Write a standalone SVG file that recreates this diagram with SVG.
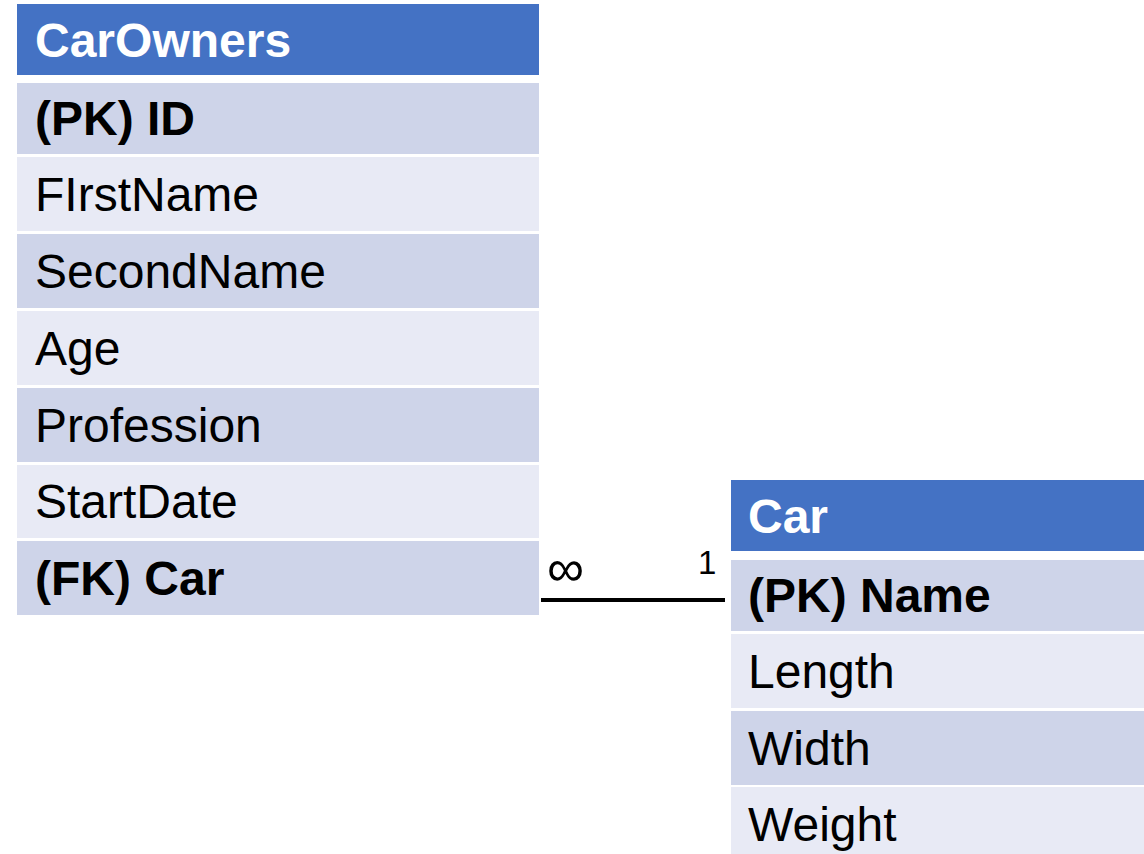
<svg xmlns="http://www.w3.org/2000/svg" width="1144" height="854" viewBox="0 0 1144 854">
  <style>
    .hdr { fill: #4472C4; }
    .dark { fill: #CED4E9; }
    .light { fill: #E8EAF5; }
    .title { font-family: "Liberation Sans", Arial, sans-serif; font-size: 48px; font-weight: bold; fill: #FFFFFF; }
    .key { font-family: "Liberation Sans", Arial, sans-serif; font-size: 48px; font-weight: bold; fill: #000000; }
    .field { font-family: "Liberation Sans", Arial, sans-serif; font-size: 48px; fill: #000000; }
    .card { font-family: "Liberation Sans", Arial, sans-serif; font-size: 33px; fill: #000000; }
    .inf { font-family: "Liberation Sans", Arial, sans-serif; font-size: 52px; fill: #000000; }
    .rel { stroke: #000000; stroke-width: 4; fill: none; }
  </style>
  <rect width="1144" height="854" fill="#FFFFFF"/>

  <!-- CarOwners table -->
  <g id="carowners">
    <rect class="hdr" x="17" y="4" width="522" height="71"/>
    <text class="title" x="35" y="57">CarOwners</text>
    <rect class="dark" x="17" y="83" width="522" height="71"/>
    <text class="key" x="35" y="135">(PK) ID</text>
    <rect class="light" x="17" y="157" width="522" height="74"/>
    <text class="field" x="35" y="211">FIrstName</text>
    <rect class="dark" x="17" y="234" width="522" height="74"/>
    <text class="field" x="35" y="288">SecondName</text>
    <rect class="light" x="17" y="311" width="522" height="74"/>
    <text class="field" x="35" y="365">Age</text>
    <rect class="dark" x="17" y="388" width="522" height="74"/>
    <text class="field" x="35" y="442">Profession</text>
    <rect class="light" x="17" y="465" width="522" height="73"/>
    <text class="field" x="35" y="518">StartDate</text>
    <rect class="dark" x="17" y="541" width="522" height="74"/>
    <text class="key" x="35" y="595">(FK) Car</text>
  </g>

  <!-- Car table -->
  <g id="car">
    <rect class="hdr" x="731" y="480" width="413" height="71"/>
    <text class="title" x="748" y="533">Car</text>
    <rect class="dark" x="731" y="560" width="413" height="71"/>
    <text class="key" x="748" y="612">(PK) Name</text>
    <rect class="light" x="731" y="634" width="413" height="74"/>
    <text class="field" x="748" y="688">Length</text>
    <rect class="dark" x="731" y="711" width="413" height="74"/>
    <text class="field" x="748" y="765">Width</text>
    <rect class="light" x="731" y="787" width="413" height="67"/>
    <text class="field" x="748" y="841">Weight</text>
  </g>

  <!-- many-to-one relationship -->
  <g id="connectors">
    <line class="rel" x1="541" y1="600" x2="725" y2="600"/>
    <text class="inf" x="547" y="586">∞</text>
    <text class="card" x="698" y="574">1</text>
  </g>
</svg>
